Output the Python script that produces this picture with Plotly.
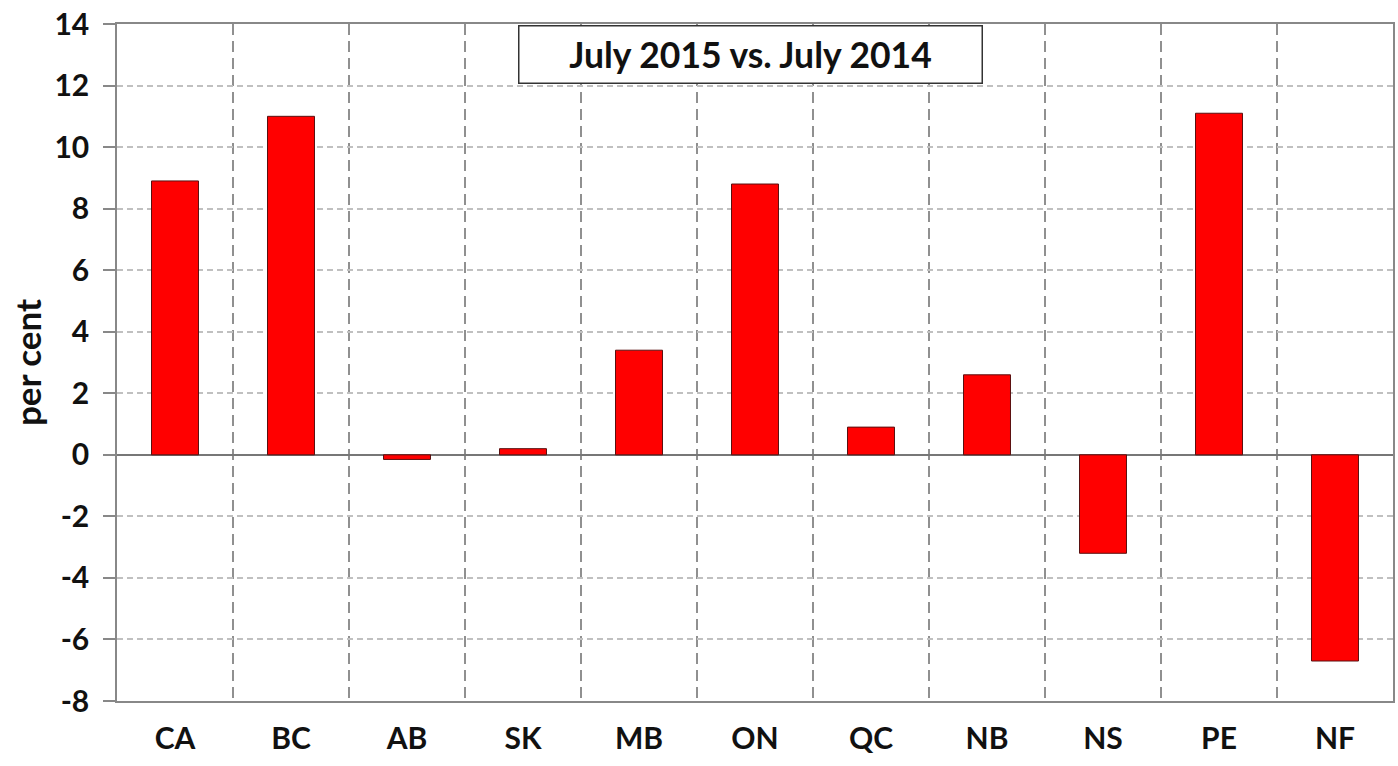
import plotly.graph_objects as go

regions = ["CA", "BC", "AB", "SK", "MB", "ON", "QC", "NB", "NS", "PE", "NF"]
change_pct = [8.9, 11.0, -0.15, 0.2, 3.4, 8.8, 0.9, 2.6, -3.2, 11.1, -6.7]
y_ticks = list(range(-8, 15, 2))
y_tick_text = [str(v) for v in y_ticks]
title_text = "July 2015 vs. July 2014"
y_label = "per cent"

FONT = "Lato, 'Open Sans', sans-serif"

fig = go.Figure(go.Bar(
    x=regions, y=change_pct, width=0.405,
    marker=dict(color="#ff0000", line=dict(color="#5a1010", width=1)),
))

fig.update_layout(
    width=1398, height=766,
    margin=dict(l=117, r=5, t=24, b=65),
    plot_bgcolor="white", paper_bgcolor="white",
    showlegend=False,
    font=dict(family=FONT, color="#111"),
)

fig.update_xaxes(
    type="category", tickson="boundaries", automargin=False,
    showgrid=True, gridcolor="#909090", griddash="11px,6px", gridwidth=1.5,
    ticks="", showline=True, linecolor="#888", linewidth=1.5, mirror=True,
    tickfont=dict(size=30, family=FONT, weight="bold"),
    ticklabelstandoff=10,
)
fig.update_yaxes(
    range=[-8, 14], tickvals=y_ticks, ticktext=y_tick_text, automargin=False,
    showgrid=True, gridcolor="#c0c0c0", griddash="6px,4px", gridwidth=1.5,
    zeroline=True, zerolinecolor="#777", zerolinewidth=1.5,
    ticks="outside", ticklen=12, tickcolor="#888", tickwidth=1.5,
    showline=True, linecolor="#888", linewidth=1.5, mirror=True,
    tickfont=dict(size=30, family=FONT, weight="bold"),
    ticklabelstandoff=8,
    title=dict(text=y_label, font=dict(size=35, family=FONT, weight="bold"), standoff=2),
)

fig.add_annotation(
    xref="paper", yref="paper", x=0.4961, y=0.9985, xanchor="center", yanchor="top",
    text="<b>" + title_text + "</b>", showarrow=False,
    font=dict(size=35.5, family=FONT, color="#111"),
    bgcolor="white", bordercolor="#333", borderwidth=1.5,
    width=458, height=52, borderpad=2,
)

fig.write_html("out.html", config={"displayModeBar": False},
               post_script="document.body.style.margin='0';")
